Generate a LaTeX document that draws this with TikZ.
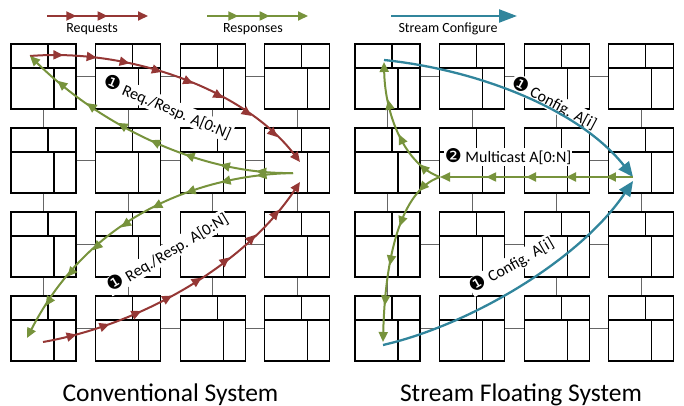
\documentclass[tikz,border=0pt]{standalone}
\usepackage{fontspec}
\setmainfont{Carlito}
\newfontfamily\dingfont{DejaVu Sans}
\usetikzlibrary{decorations.markings,arrows.meta}

\definecolor{reqred}{HTML}{953735}
\definecolor{respgreen}{HTML}{77933C}
\definecolor{cfgteal}{HTML}{31859C}

\tikzset{
  tile/.style={draw, line width=1.2pt, minimum width=65pt, minimum height=65pt,
    inner sep=0pt,
    path picture={\draw[line width=1.2pt]
      ([yshift=-24pt]path picture bounding box.north west) -- ([yshift=-24pt]path picture bounding box.north east)
      ([xshift=37pt]path picture bounding box.north west) -- ([xshift=37pt,yshift=-24pt]path picture bounding box.north west)
      ([xshift=43pt,yshift=-24pt]path picture bounding box.north west) -- ([xshift=43pt]path picture bounding box.south west);}},
  link/.style={draw=black!60, line width=1.2pt},
  flow/.style={color=#1, line width=2pt, -{Triangle[length=10pt,width=9pt]}},
  cfg/.style={color=cfgteal, line width=2.3pt, -{Triangle[length=15pt,width=13pt]}},
  tipsat/.style={postaction={decorate,decoration={markings,
    mark=between positions #1 with {\arrow{Triangle[length=10pt,width=9pt]}}}}},
  lbl/.style={fill=white, inner sep=1pt, font=\fontsize{16}{18}\selectfont},
  num/.style={font=\dingfont\fontsize{19}{19}\selectfont},
  legendtxt/.style={font=\fontsize{14}{16}\selectfont, inner sep=0pt},
  title/.style={font=\fontsize{25.5}{28}\selectfont, inner sep=0pt, anchor=base}
}
\newcommand{\dnum}[1]{{\dingfont\fontsize{19}{19}\selectfont\char#1}}

\begin{document}
\begin{tikzpicture}[x=1pt,y=-1pt]
\useasboundingbox (0,0) rectangle (684,406);

% 4x4 tile meshes
\foreach \c in {0,...,3}{
  \foreach \r in {0,...,3}{
    \node[tile] (L\c\r) at ({43.5+84.6*\c},{76.5+84*\r}) {};
    \node[tile] (R\c\r) at ({387.5+84.6*\c},{76.5+84*\r}) {};
  }
}
\foreach \p in {L,R}{
  \foreach \c/\n in {0/1,1/2,2/3}{
    \foreach \r in {0,...,3}{
      \draw[link] (\p\c\r) -- (\p\n\r);
      \draw[link] (\p\r\c) -- (\p\r\n);
    }
  }
}

% legend
\coordinate (rq1) at (47,16);  \coordinate (rq2) at (148,16);
\coordinate (rs1) at (207,16); \coordinate (rs2) at (308,16);
\coordinate (sc1) at (391,16); \coordinate (sc2) at (517,16);
\draw[flow=reqred, tipsat={0.29 and 0.7 step 0.31}] (rq1) -- (rq2);
\draw[flow=respgreen, tipsat={0.31 and 0.7 step 0.31}] (rs1) -- (rs2);
\draw[color=cfgteal, line width=2.3pt, -{Triangle[length=18pt,width=13pt]}] (sc1) -- (sc2);
\node[legendtxt] (lgq) at (92,29) {Requests};
\node[legendtxt] (lgs) at (253,29) {Responses};
\node[legendtxt] (lgc) at (448,29) {Stream Configure};

% conventional system: labels
\node[lbl, rotate=-23] (lab1) at (167.5,107.5) {\dnum{"2776}\ Req./Resp. A[0:N]};
\node[lbl, rotate=31] (lab2) at (167.5,252.5) {\dnum{"2776}\ Req./Resp. A[0:N]};

% conventional system: request / response paths
\coordinate (cA) at (30,56);
\coordinate (cB) at (300,162);
\coordinate (cC) at (293,173);
\coordinate (cD) at (27,338);
\coordinate (cE) at (43,342);
\coordinate (cF) at (300,182);
\draw[flow=reqred, tipsat={0.111 and 0.9 step 0.111}]
  (cA) .. controls (130,48) and (245,90) .. (cB);
\draw[flow=respgreen, tipsat={0.125 and 0.9 step 0.125}]
  (cC) .. controls (200,175) and (100,125) .. (cA);
\draw[flow=respgreen, tipsat={0.111 and 0.9 step 0.111}]
  (cC) .. controls (200,175) and (90,215) .. (cD);
\draw[flow=reqred, tipsat={0.111 and 0.9 step 0.111}]
  (cE) .. controls (140,325) and (245,265) .. (cF);

% stream floating system: labels
\node[lbl, rotate=-28] (lab3) at (554.5,103) {\dnum{"2776}\ Config. A[i]};
\node[lbl] (lab4) at (508,157) {\dnum{"2777}\ Multicast A[0:N]};
\node[lbl, rotate=30] (lab5) at (511.5,265) {\dnum{"2776}\ Config. A[i]};

% stream floating system: configure and multicast paths
\coordinate (sA) at (384,60);
\coordinate (sB) at (633,177);
\coordinate (sC) at (383,345);
\coordinate (sD) at (633,181);
\coordinate (sJ) at (440,177);
\coordinate (sU) at (384,62);
\coordinate (sL) at (383,342);
\draw[cfg] (sA) .. controls (480,70) and (580,110) .. (sB);
\draw[cfg] (sC) .. controls (470,325) and (580,260) .. (sD);
\draw[flow=respgreen, tipsat={0.14 and 0.8 step 0.207}] (sB) -- (sJ);
\draw[flow=respgreen, tipsat={0.18 and 0.75 step 0.27}]
  (sJ) .. controls (405,165) and (385,115) .. (sU);
\draw[flow=respgreen, tipsat={0.14 and 0.85 step 0.22}]
  (sJ) .. controls (400,190) and (385,260) .. (sL);

% titles
\node[title] (t1) at (170.5,401) {Conventional System};
\node[title] (t2) at (521,401) {Stream Floating System};
\end{tikzpicture}
\end{document}
